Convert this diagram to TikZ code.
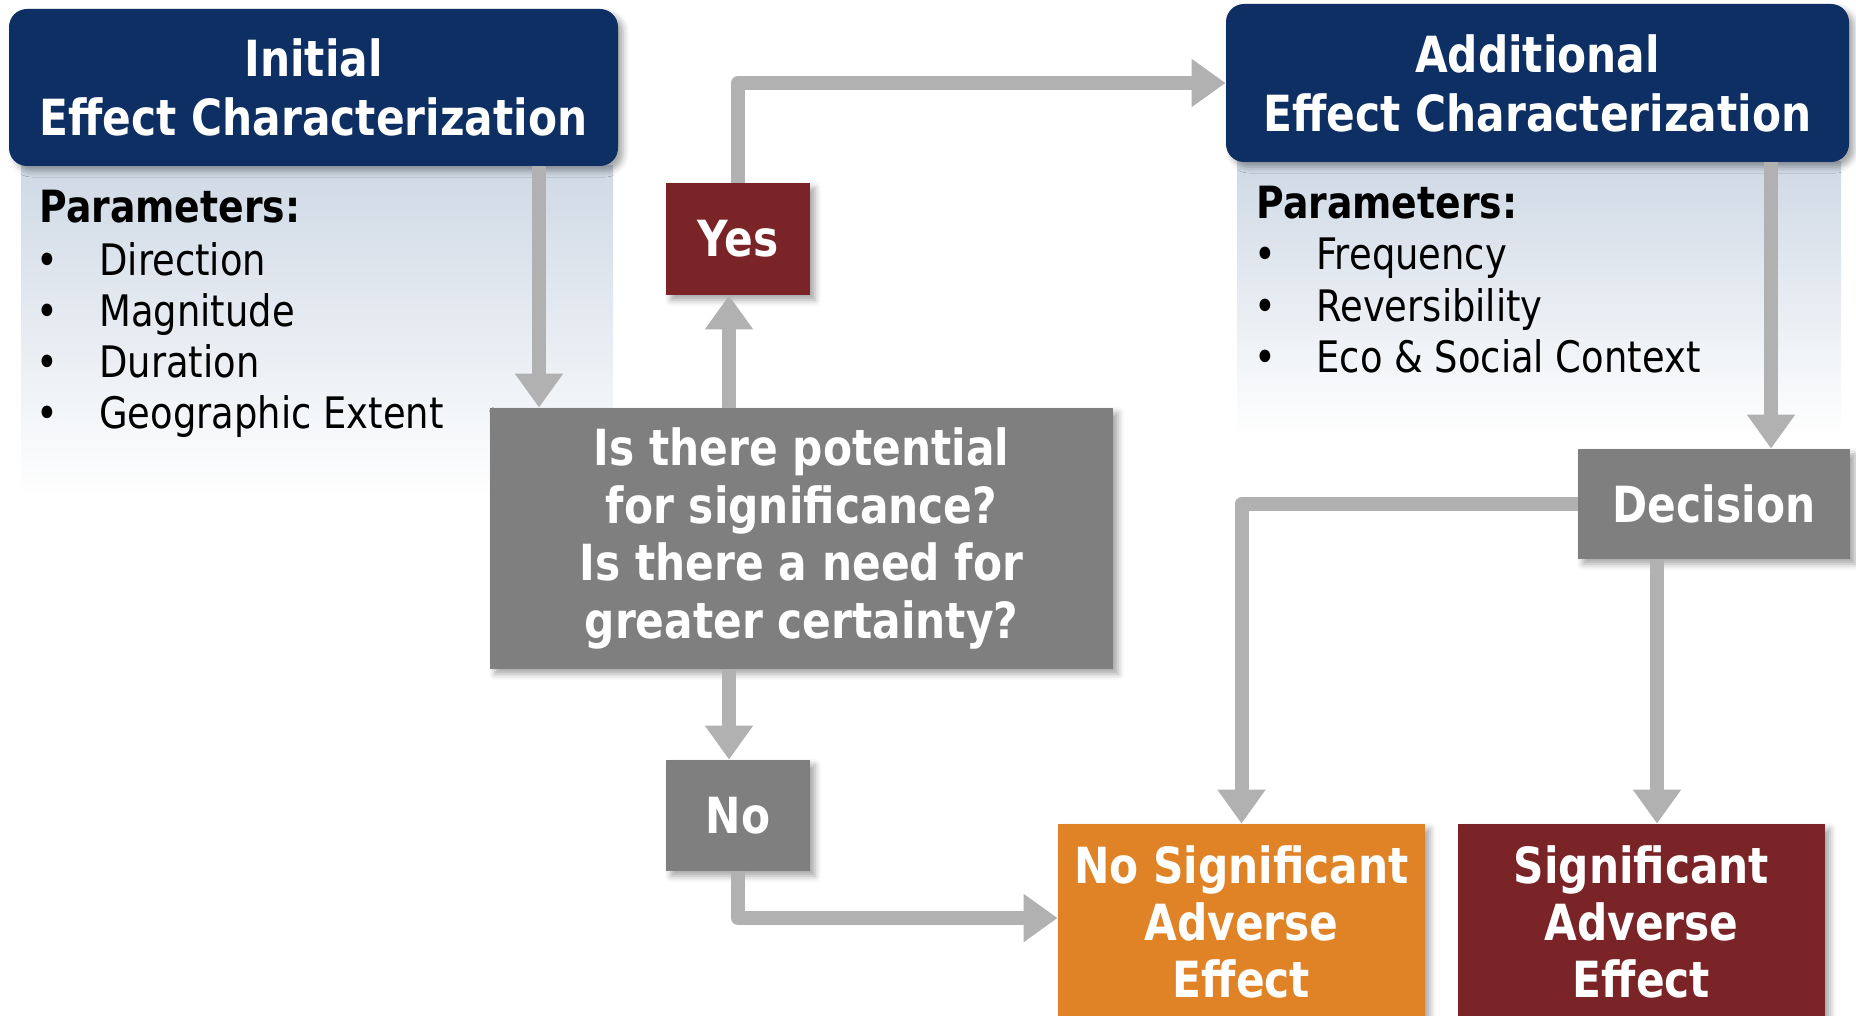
\documentclass[tikz,border=0pt]{standalone}
\usepackage{fontspec}
\setmainfont{DejaVu Sans}[FakeStretch=0.85]
\usetikzlibrary{arrows.meta,shadows.blur}
\definecolor{navy}{HTML}{0E2F63}
\definecolor{wine}{HTML}{7B2427}
\definecolor{amber}{HTML}{E08326}
\definecolor{slate}{HTML}{7F7F7F}
\definecolor{link}{HTML}{B1B1B1}
\definecolor{mist}{HTML}{CFD9E5}

\begin{document}
\begin{tikzpicture}[x=0.5pt,y=-0.5pt,
  box/.style={rectangle, inner sep=0pt, text=white, align=center,
    font=\bfseries\fontsize{24.9}{28.7}\selectfont,
    blur shadow={shadow xshift=2.5pt, shadow yshift=-2.5pt,
      shadow blur radius=3pt, shadow opacity=35}},
  title/.style={box, fill=navy, rounded corners=9pt,
    font=\bfseries\fontsize{24.9}{29.5}\selectfont},
  grey/.style={box, fill=slate},
  redbox/.style={box, fill=wine},
  orangebox/.style={box, fill=amber},
  arr/.style={draw=link, line width=7pt, line join=round,
    -{Triangle[width=23pt,length=17pt]}},
  plabel/.style={anchor=base west, inner sep=0pt,
    font=\bfseries\fontsize{22.2}{25}\selectfont},
  pitem/.style={anchor=base west, inner sep=0pt,
    font=\fontsize{21.7}{25}\selectfont}]

\useasboundingbox (0,0) rectangle (1856,1016);

% parameter panels fading out below the title boxes
\shade[top color=mist, bottom color=white] (21,166) rectangle (613,497);
\shade[top color=mist, bottom color=white] (1237,162) rectangle (1841,438);

% boxes
\node[title, minimum width=304.5pt, minimum height=78.5pt] (init) at (313.5,87.5)
  {Initial\\Effect Characterization};
\node[title, minimum width=311.5pt, minimum height=79pt] (add) at (1537.5,83)
  {Additional\\Effect Characterization};
\node[grey, minimum width=311.5pt, minimum height=130.5pt] (quest) at (801.5,538.5)
  {Is there potential\\for significance?\\Is there a need for\\greater certainty?};
\node[redbox, minimum width=72pt, minimum height=56pt] (yes) at (738,239) {Yes};
\node[grey, minimum width=72pt, minimum height=55.5pt] (no) at (738,815.5) {No};
\node[grey, minimum width=136pt, minimum height=55pt] (dec) at (1714,504) {Decision};
\node[orangebox, minimum width=183.5pt, minimum height=98pt] (nosig) at (1241.5,922)
  {No Significant\\Adverse\\Effect};
\node[redbox, minimum width=183.5pt, minimum height=98pt] (sig) at (1641.5,922)
  {Significant\\Adverse\\Effect};

% parameter lists
\node[plabel] (pa) at (39,222) {Parameters:};
\foreach \t [count=\i] in {Direction, Magnitude, Duration, Geographic Extent} {
  \node[pitem] (ab\i) at (36,224+51*\i) {•};
  \node[pitem] (a\i) at (99,224+51*\i) {\t};
}
\node[plabel] (pb) at (1256,219) {Parameters:};
\foreach \t [count=\i] in {Frequency, Reversibility, Eco \& Social Context} {
  \node[pitem] (bb\i) at (1254,219+51*\i) {•};
  \node[pitem] (b\i) at (1316,219+51*\i) {\t};
}

% connectors
\draw[arr] (init.south -| 539,0) -- (quest.north -| 539,0);
\draw[arr] (quest.north -| 729,0) -- (yes.south -| 729,0);
\draw[arr] (yes.north) |- (add.west);
\draw[arr] (add.south -| 1771,0) -- (dec.north -| 1771,0);
\draw[arr] (dec.west) -| (nosig.north);
\draw[arr] (dec.south -| 1657,0) -- (sig.north -| 1657,0);
\draw[arr] (quest.south -| 729,0) -- (no.north -| 729,0);
\draw[arr] (no.south) |- (nosig.west |- 0,918);
\end{tikzpicture}
\end{document}
